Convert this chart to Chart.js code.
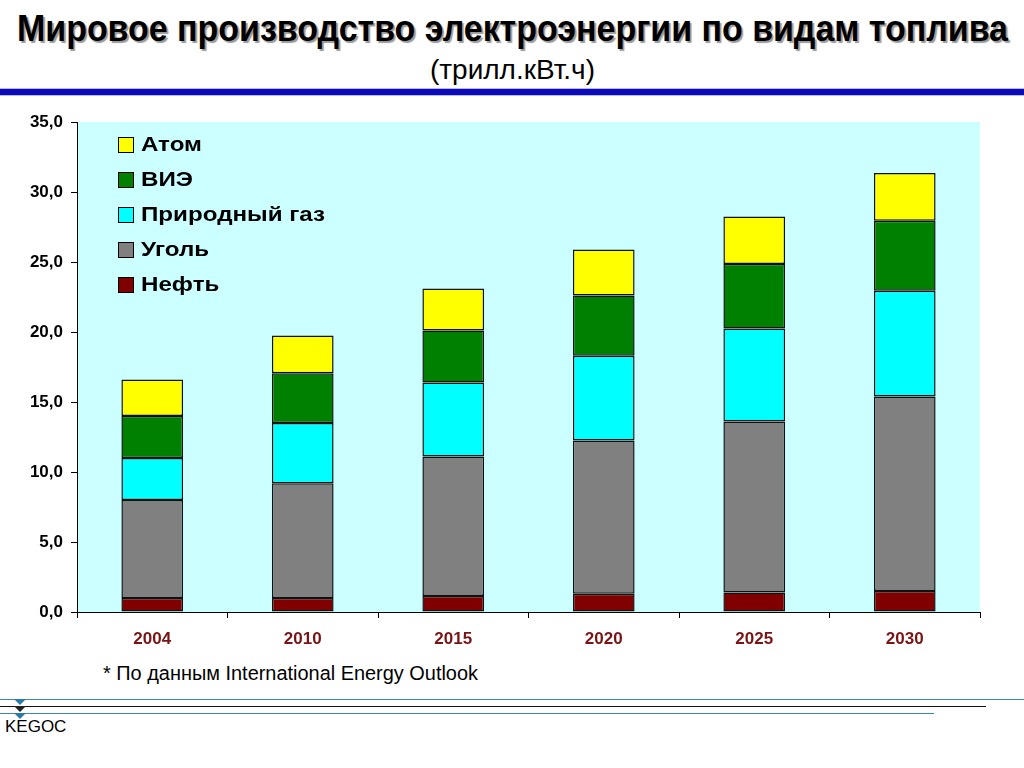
<!DOCTYPE html>
<html>
<head>
<meta charset="utf-8">
<script src="https://cdn.jsdelivr.net/npm/chart.js@4.4.1/dist/chart.umd.min.js"></script>
<style>
  body { margin: 0; background: #fff; font-family: "Liberation Sans", Arial, sans-serif; }
  #page { position: relative; width: 1024px; height: 768px; overflow: hidden; }
  .txt { position: absolute; white-space: nowrap; transform-origin: left top; }
  #title { top: 8px; font-size: 36px; font-weight: bold; color: #000; text-shadow: 2px 2px 1px #9a9a9a; }
  #subtitle { top: 54px; font-size: 28px; color: #000; }
  #note { top: 662px; font-size: 20px; color: #000; }
  #kegoc { left: 5px; top: 717px; font-size: 17px; color: #000; }
  .hl { position: absolute; left: 0; }
  #chartBox { position: absolute; left: 0; top: 100px; width: 1024px; height: 560px; }
</style>
</head>
<body>
<div id="page">
  <div class="txt" id="title" data-x="17" data-w="991">Мировое производство электроэнергии по видам топлива</div>
  <div class="txt" id="subtitle" data-x="430" data-w="165">(трилл.кВт.ч)</div>
  <div class="hl" style="top:88px;width:1024px;height:1px;background:#b8b8e8"></div>
  <div class="hl" style="top:89px;width:1024px;height:6px;background:#0a0ab8"></div>
  <div class="hl" style="top:95px;width:1024px;height:1px;background:#b8b8e8"></div>
  <div id="chartBox"><canvas id="chart"></canvas></div>
  <div class="txt" id="note" data-x="103" data-w="375">* По данным International Energy Outlook</div>
  <div class="hl" style="top:699px;width:1024px;height:1px;background:#3a8ab0"></div>
  <div class="hl" style="top:706px;width:986px;height:1px;background:#111"></div>
  <div class="hl" style="top:713px;width:934px;height:1px;background:#3a8ab0"></div>
  <div class="hl" style="left:14px;top:699px;width:0;height:0;border-left:6px solid transparent;border-right:6px solid transparent;border-top:6px solid #2a7aa8"></div>
  <div class="hl" style="left:14px;top:706px;width:0;height:0;border-left:6px solid transparent;border-right:6px solid transparent;border-top:6px solid #222"></div>
  <div class="hl" style="left:14px;top:713px;width:0;height:0;border-left:6px solid transparent;border-right:6px solid transparent;border-top:6px solid #2a7aa8"></div>
  <div class="txt" id="kegoc">KEGOC</div>
</div>
<script>
// years on the x axis
var years = ['2004', '2010', '2015', '2020', '2025', '2030'];

// production by fuel, trillion kWh
var oil     = [1.0, 1.0, 1.15, 1.3, 1.4, 1.5];
var coal    = [7.0, 8.2, 9.95, 10.95, 12.2, 13.9];
var gas     = [3.0, 4.3, 5.3, 6.05, 6.65, 7.55];
var renew   = [3.0, 3.55, 3.7, 4.3, 4.6, 5.0];
var nuclear = [2.6, 2.7, 3.0, 3.3, 3.4, 3.4];

var seriesNames = ['Нефть', 'Уголь', 'Природный газ', 'ВИЭ', 'Атом'];
var seriesColors = ['#800000', '#808080', '#00ffff', '#008000', '#ffff00'];

// y axis ticks
var yMin = 0, yMax = 35, yStep = 5;

// stretch the header texts to the widths they have on the slide
document.querySelectorAll('.txt[data-w]').forEach(function (el) {
  var w = el.getBoundingClientRect().width;
  el.style.left = el.dataset.x + 'px';
  el.style.transform = 'scaleX(' + (el.dataset.w / w) + ')';
});

// light cyan plot background
var plotBg = {
  id: 'plotBg',
  beforeDraw: function (chart) {
    var a = chart.chartArea, ctx = chart.ctx;
    ctx.save();
    ctx.fillStyle = '#ccffff';
    ctx.fillRect(a.left, a.top, a.right - a.left, a.bottom - a.top);
    ctx.restore();
  }
};

// legend drawn inside the plot, top-left, reversed order
var innerLegend = {
  id: 'innerLegend',
  afterDraw: function (chart) {
    var a = chart.chartArea, ctx = chart.ctx;
    var sets = chart.data.datasets.slice().reverse();
    ctx.save();
    ctx.font = 'bold 21px "Liberation Sans", Arial, sans-serif';
    ctx.textBaseline = 'middle';
    sets.forEach(function (ds, i) {
      var cy = a.top + 23 + i * 35;
      ctx.fillStyle = ds.backgroundColor;
      ctx.fillRect(a.left + 42, cy - 7, 14, 14);
      ctx.strokeStyle = '#000';
      ctx.lineWidth = 1;
      ctx.strokeRect(a.left + 41.5, cy - 7.5, 15, 15);
      ctx.fillStyle = '#000';
      ctx.save();
      ctx.translate(a.left + 64, cy);
      ctx.scale(1.15, 1);
      ctx.fillText(ds.label, 0, 0);
      ctx.restore();
    });
    ctx.restore();
  }
};

var values = [oil, coal, gas, renew, nuclear];
var datasets = values.map(function (v, i) {
  return {
    label: seriesNames[i],
    data: v,
    backgroundColor: seriesColors[i],
    borderColor: '#111',
    borderWidth: 1.5,
    borderSkipped: false,
    barPercentage: 0.41,
    categoryPercentage: 1.0
  };
});

var ctx = document.getElementById('chart').getContext('2d');
var chartBar = new Chart(ctx, {
  type: 'bar',
  data: { labels: years, datasets: datasets },
  options: {
    responsive: true,
    maintainAspectRatio: false,
    animation: false,
    layout: { padding: { top: 22, right: 44, left: 0, bottom: 0 } },
    plugins: {
      legend: { display: false },
      tooltip: { enabled: false }
    },
    scales: {
      x: {
        stacked: true,
        afterFit: function (s) { s.height = 48; },
        grid: { offset: true, drawOnChartArea: false, tickLength: 6, color: '#000' },
        border: { color: '#000', width: 1 },
        ticks: {
          color: '#7a1414',
          padding: 11,
          font: { family: '"Liberation Sans", Arial, sans-serif', size: 17, weight: 'bold' }
        }
      },
      y: {
        stacked: true,
        min: yMin,
        max: yMax,
        afterFit: function (s) { s.width = 77; },
        grid: { drawOnChartArea: false, tickLength: 6, color: '#000' },
        border: { color: '#000', width: 1 },
        ticks: {
          stepSize: yStep,
          color: '#000',
          padding: 8,
          font: { family: '"Liberation Sans", Arial, sans-serif', size: 17, weight: 'bold' },
          callback: function (v) { return v.toFixed(1).replace('.', ','); }
        }
      }
    }
  },
  plugins: [plotBg, innerLegend]
});
</script>
</body>
</html>
